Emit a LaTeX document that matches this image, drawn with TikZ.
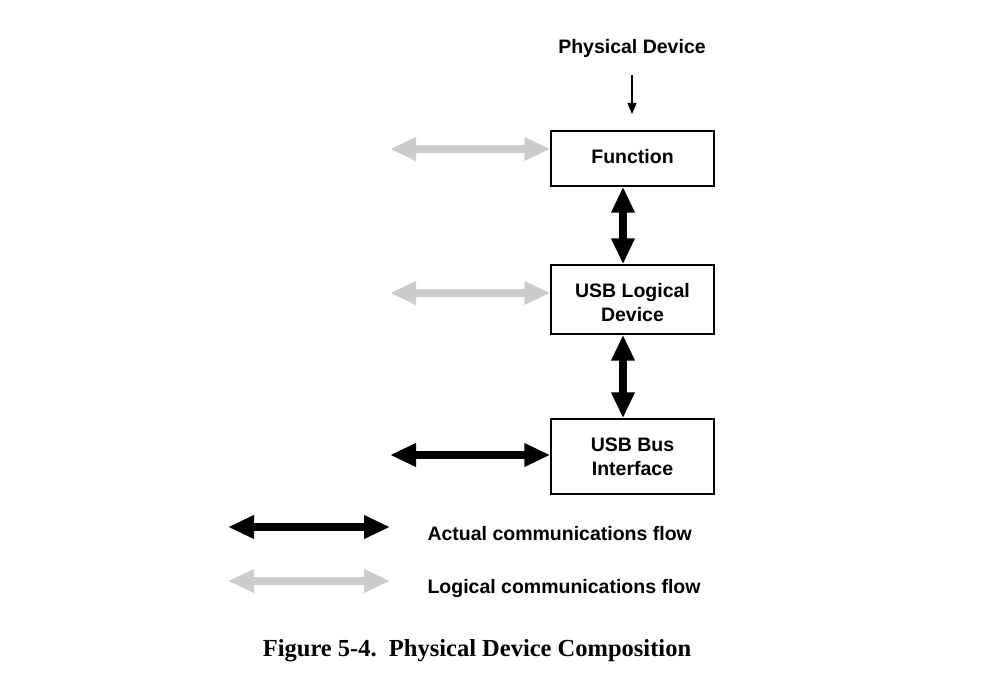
\documentclass[tikz,border=0pt]{standalone}
\usepackage{fontspec}
\setmainfont{Liberation Serif}
\setsansfont{Liberation Sans}
\usetikzlibrary{arrows.meta}
\definecolor{lightflow}{RGB}{204,204,204}
\newcommand{\tallstrut}{\rule{0pt}{21pt}}
\begin{document}
\begin{tikzpicture}[x=1pt,y=-1pt,
  lbl/.style={font=\sffamily\bfseries\fontsize{19.5}{24}\selectfont, align=center},
  blk/.style={draw=black, line width=1.4pt, minimum width=163pt, inner sep=0pt, lbl},
  bigflow/.style={line width=8pt, {Triangle[length=26pt,width=22pt]}-{Triangle[length=26pt,width=22pt]}},
  actual/.style={bigflow, draw=black},
  logical/.style={bigflow, draw=lightflow},
  thinarrow/.style={line width=1.2pt, -{Triangle[length=11pt,width=9pt]}}
]
\useasboundingbox (0,0) rectangle (1005,682);
\node[lbl] (pd) at (632,48) {Physical Device};
\coordinate (pdtop) at (632,75);
\coordinate (pdbot) at (632,114);
\draw[thinarrow] (pdtop) -- (pdbot);

\node[blk, minimum height=55pt, text depth=5pt] (fn) at (632.5,158.5) {Function};
\node[blk, minimum height=69pt] (ld) at (632.5,299.5) {\tallstrut USB Logical\\Device};
\node[blk, minimum height=75pt] (bi) at (632.5,456.5) {USB Bus\\Interface};

\coordinate (vx) at (623,0);
\draw[actual] (fn.south -| vx) -- (ld.north -| vx);
\draw[actual] (ld.south -| vx) -- (bi.north -| vx);

\coordinate (g1) at (390,149);
\coordinate (g2) at (390,293);
\coordinate (b1) at (390,455);
\draw[logical] (g1) -- (g1 -| fn.west);
\draw[logical] (g2) -- (g2 -| ld.west);
\draw[actual] (b1) -- (b1 -| bi.west);

\coordinate (la1) at (228,527);
\coordinate (la2) at (390,527);
\coordinate (ll1) at (228,581);
\coordinate (ll2) at (390,581);
\draw[actual] (la1) -- (la2);
\draw[logical] (ll1) -- (ll2);
\node[lbl, anchor=west] (lat) at (424,534) {Actual communications flow};
\node[lbl, anchor=west] (llt) at (424,588) {Logical communications flow};

\node[font=\rmfamily\bfseries\fontsize{24.5}{30}\selectfont] (cap) at (477,651) {Figure 5-4.\ \ Physical Device Composition};
\end{tikzpicture}
\end{document}
